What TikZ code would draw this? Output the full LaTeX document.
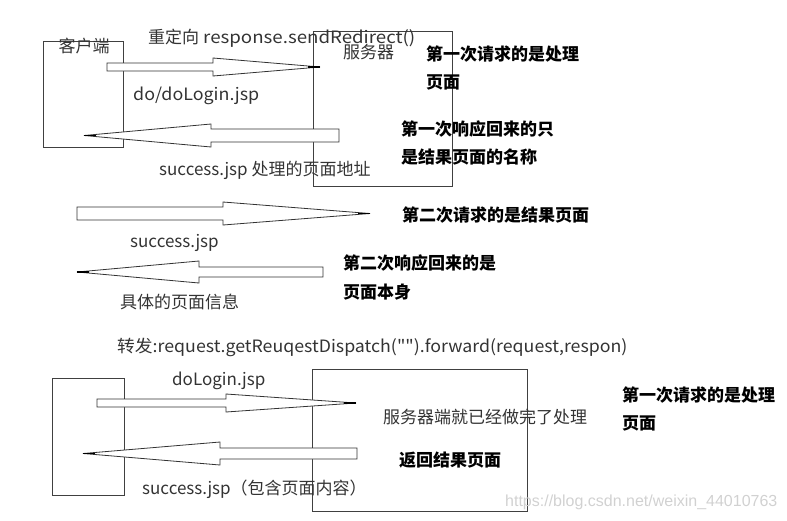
\documentclass[tikz,border=0pt]{standalone}
\usepackage{fontspec}
\newfontfamily\cjkf{Noto Sans CJK SC}
\newfontfamily\wmfont{Liberation Sans}
\begin{document}
\begin{tikzpicture}[x=1pt,y=-1pt,
  lbl/.style={inner sep=0pt,anchor=west,text=black!80,font=\cjkf\fontsize{17}{20}\selectfont},
  blbl/.style={inner sep=0pt,anchor=west,text=black,font=\cjkf\fontsize{17}{20}\selectfont\bfseries},
  boxst/.style={draw=black!75,line width=0.9pt},
  arrst/.style={draw=black!80,line width=0.8pt,fill=white},
  tipst/.style={draw=black,line width=1.3pt}]
\useasboundingbox (0,0) rectangle (787,520);
\newcommand\bkarrow[6]{% x0, xbase, xtip, yc, shaft half, head half
  \draw[arrst] (#1,#4-#5) -- (#2,#4-#5) -- (#2,#4-#6) -- (#3,#4) -- (#2,#4+#6) -- (#2,#4+#5) -- (#1,#4+#5) -- cycle;
  \pgfmathsetmacro\tipdir{(#3>#1)?1:-1}
  \draw[tipst] (#3-\tipdir*12,#4) -- (#3,#4);
}
% boxes
\draw[boxst] (43,41) rectangle (123,147) coordinate (client1);
\draw[boxst] (313,31) rectangle (452,186) coordinate (server1);
\draw[boxst] (52,378) rectangle (124,495) coordinate (client2);
\draw[boxst] (312,369) rectangle (527,511) coordinate (server2);
% arrows
\bkarrow{107}{213}{320}{67}{4}{9}
\bkarrow{339}{211}{84}{135.5}{6.5}{11.5}
\bkarrow{77}{223}{370}{213.5}{6.5}{11.5}
\bkarrow{323}{199}{77}{272}{5}{11}
\bkarrow{97}{226}{356}{403}{4}{9}
\bkarrow{357}{220}{83}{453.5}{5.5}{11.5}
% labels
\node[lbl,anchor=center] (kh) at (84,46) {客户端};
\node[lbl] (redir) at (148,38) {重定向\hspace{4pt}\scalebox{1.1}[1]{response.sendRedirect()}};
\node[lbl] (fwq) at (343,52) {服务器};
\node[lbl] (dolog1) at (133,96) {\scalebox{1.05}[1]{do/doLogin.jsp}};
\node[lbl] (succ1) at (159,170) {success.jsp 处理的页面地址};
\node[blbl] (r1a) at (426,54) {第一次请求的是处理};
\node[blbl] (r1b) at (426,82) {页面};
\node[blbl] (r2a) at (401,129) {第一次响应回来的只};
\node[blbl] (r2b) at (401,157) {是结果页面的名称};
\node[blbl] (r3) at (402,215) {第二次请求的是结果页面};
\node[lbl] (succ2) at (130,243) {success.jsp};
\node[blbl] (r4a) at (343,263) {第二次响应回来的是};
\node[blbl] (r4b) at (343,292) {页面本身};
\node[lbl] (info) at (120,302) {具体的页面信息};
\node[lbl] (fwd) at (117,347) {\scalebox{1.045}[1]{转发:request.getReuqestDispatch("").forward(request,respon)}};
\node[lbl] (dolog2) at (172,381) {doLogin.jsp};
\node[lbl] (done) at (383,417) {服务器端就已经做完了处理};
\node[blbl] (ret) at (399,460) {返回结果页面};
\node[lbl] (succ3) at (142,489) {success.jsp（包含页面内容）};
\node[blbl] (r5a) at (622,395) {第一次请求的是处理};
\node[blbl] (r5b) at (622,423) {页面};
\node[inner sep=0pt,anchor=west,text=black!18,font=\wmfont\fontsize{16}{18}\selectfont] (wm) at (505,502) {https://blog.csdn.net/weixin\_44010763};
\end{tikzpicture}
\end{document}
